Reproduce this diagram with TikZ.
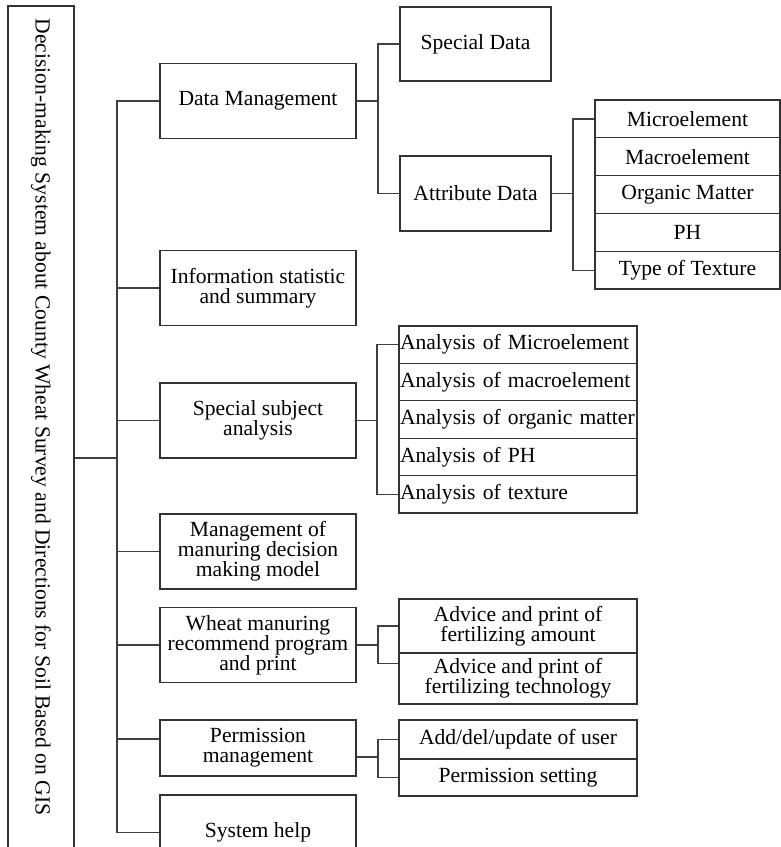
\documentclass[tikz,border=0pt]{standalone}
\usepackage{fontspec}
\setmainfont{Liberation Serif}
\tikzset{
  box/.style={draw=black!80, line width=1.2pt, align=center, inner sep=1pt,
              font=\fontsize{21.6}{20}\selectfont},
  lvlone/.style={box, minimum width=196pt, minimum height=75pt},
  attr/.style={box, minimum width=185pt, minimum height=37.8pt},
  anl/.style={box, minimum width=238pt, minimum height=37.4pt, text width=236pt, align=left},
  wire/.style={draw=black!75, line width=1.2pt}
}
\begin{document}
\begin{tikzpicture}[x=1pt,y=-1pt]
\useasboundingbox (0,0) rectangle (780,847);

% root
\node[box, minimum width=66pt, minimum height=854pt] (root) at (41,433) {};
\node[rotate=-90, font=\fontsize{21.6}{20}\selectfont] (roottitle) at (41,417) {Decision-making System about County Wheat Survey and Directions for Soil Based on GIS};

% first level
\node[lvlone] (dm)   at (258,101)   {Data Management};
\node[lvlone] (info) at (258,288)   {Information statistic\\and summary};
\node[lvlone] (ssa)  at (258,420.5) {Special subject\\analysis};
\node[lvlone] (mdm)  at (258,551.5) {Management of\\manuring decision\\making model};
\node[lvlone] (wmr)  at (258,645)   {Wheat manuring\\recommend program\\and print};
\node[lvlone, minimum height=56pt] (perm) at (258,748) {Permission\\management};
\node[lvlone] (help) at (258,832.5) {System help};

\coordinate (bus) at (117,458);
\draw[wire] (root.east |- bus) -- (bus);
\draw[wire] (dm.west) -- (dm.west -| bus) |- (help.west);
\foreach \n in {info,ssa,mdm,wmr}
  \draw[wire] (\n.west) -- (\n.west -| bus);
\draw[wire] ([yshift=9pt]perm.west) -- ([yshift=9pt]perm.west -| bus);

% data management
\node[box, minimum width=151pt, minimum height=74pt] (sd) at (475.5,44)    {Special Data};
\node[box, minimum width=151pt, minimum height=75pt] (ad) at (475.5,193.5) {Attribute Data};
\coordinate (dmbus) at (378,101);
\draw[wire] (dm.east) -- (dmbus);
\draw[wire] (sd.west) -- (sd.west -| dmbus) |- (ad.west);

\node[attr] (a1) at (687.5,118.9) {Microelement};
\node[attr] (a2) at (687.5,156.7) {Macroelement};
\node[attr] (a3) at (687.5,194.5) {Organic Matter};
\node[attr] (a4) at (687.5,232.3) {PH};
\node[attr] (a5) at (687.5,270.1) {Type of Texture};
\coordinate (adbus) at (573,193.5);
\draw[wire] (ad.east) -- (adbus);
\draw[wire] (a1.west) -- (a1.west -| adbus) |- (a5.west);

% special subject analysis
\node[anl] (s1) at (518,344.7) {Analysis of Microelement};
\node[anl] (s2) at (518,382.1) {Analysis of macroelement};
\node[anl] (s3) at (518,419.5) {Analysis of organic matter};
\node[anl] (s4) at (518,456.9) {Analysis of PH};
\node[anl] (s5) at (518,494.3) {Analysis of texture};
\coordinate (ssabus) at (377,420.5);
\draw[wire] (ssa.east) -- (ssabus);
\draw[wire] (s1.west) -- (s1.west -| ssabus) |- (s5.west);

% manuring program
\node[box, minimum width=238pt, minimum height=54pt] (adv1) at (518,626)   {Advice and print of\\fertilizing amount};
\node[box, minimum width=238pt, minimum height=51pt] (adv2) at (518,678.5) {Advice and print of\\fertilizing technology};
\coordinate (wmrbus) at (378,645);
\draw[wire] (wmr.east) -- (wmrbus);
\draw[wire] (adv1.west) -- (adv1.west -| wmrbus) |- ([yshift=-11pt]adv2.north west);

% permission
\node[box, minimum width=238pt, minimum height=39pt] (p1) at (518,739.5) {Add/del/update of user};
\node[box, minimum width=238pt, minimum height=37pt] (p2) at (518,777.5) {Permission setting};
\coordinate (permbus) at (378,757);
\draw[wire] ([yshift=-9pt]perm.east) -- (permbus);
\draw[wire] (p1.west) -- (p1.west -| permbus) |- (p2.west);
\end{tikzpicture}
\end{document}
